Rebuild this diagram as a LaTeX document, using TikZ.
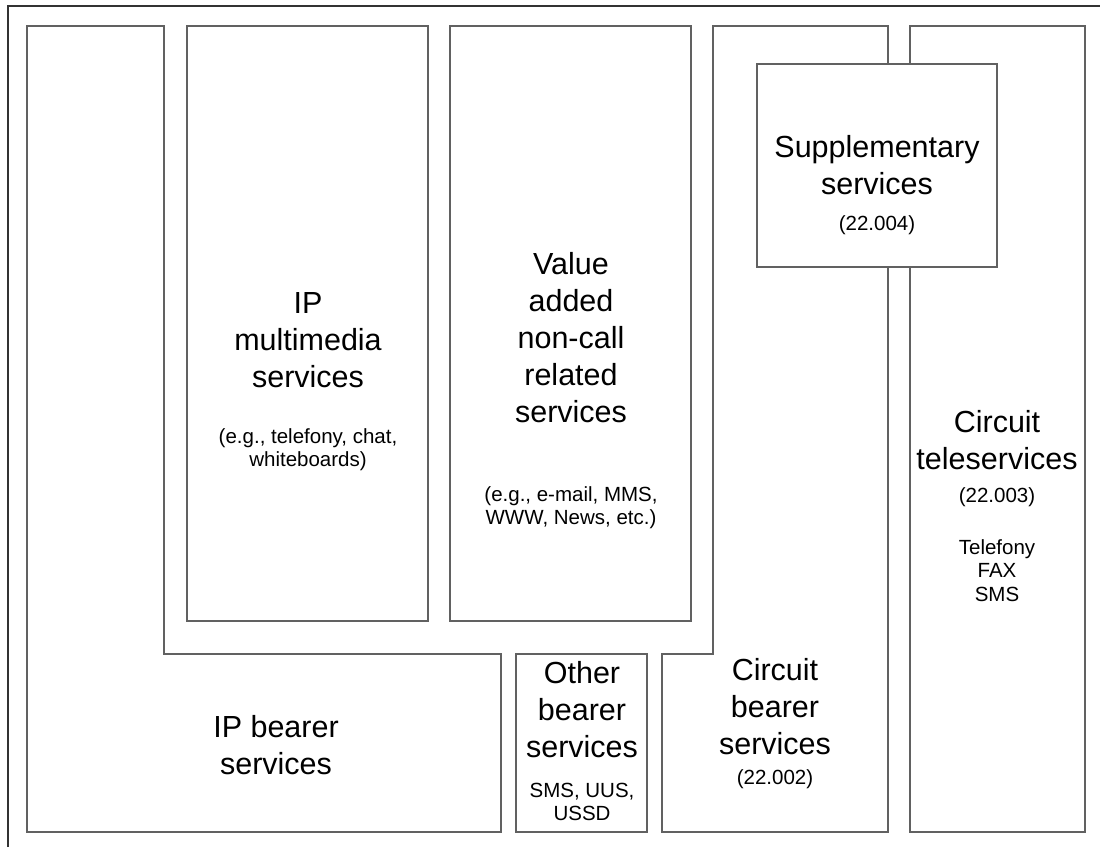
\documentclass[tikz,border=0pt]{standalone}
\usepackage{fontspec}
\setmainfont{Liberation Sans}
\newcommand\mlines[1]{\begin{tabular}[t]{@{}c@{}}#1\end{tabular}}
\begin{document}
\begin{tikzpicture}[x=1pt,y=-1pt,
  box/.style={draw=black!62,line width=1.2pt},
  frame/.style={draw=black!80,line width=1.2pt},
  big/.style={anchor=base,inner sep=0pt,font=\fontsize{30.5}{37}\selectfont},
  small/.style={anchor=base,inner sep=0pt,font=\fontsize{20.5}{23.5}\selectfont}]
\useasboundingbox (0,0) rectangle (1100,847);
% outer frame
\draw[frame] (8,847) -- (8,6) -- (1100,6);
% IP bearer
\draw[box] (27,26) -- (164,26) -- (164,654) -- (501,654) -- (501,832) -- (27,832) -- cycle;
% IP multimedia
\draw[box] (187,26) rectangle (428,621);
% Value added
\draw[box] (450,26) rectangle (691,621);
% Other bearer
\draw[box] (516,654) rectangle (647,832);
% Circuit bearer
\draw[box] (662,654) -- (713,654) -- (713,26) -- (888,26) -- (888,832) -- (662,832) -- cycle;
% Circuit teleservices
\draw[box] (910,26) rectangle (1085,832);
% Supplementary
\draw[box,fill=white] (757,64) rectangle (997,267);

\node[big] (ipm) at (308,313) {\mlines{IP\\multimedia\\services}};
\node[small] (ipmx) at (308,443) {\mlines{(e.g., telefony, chat,\\whiteboards)}};
\node[big] (vas) at (571,274) {\mlines{Value\\added\\non-call\\related\\services}};
\node[small] (vasx) at (571,501) {\mlines{(e.g., e-mail, MMS,\\WWW, News, etc.)}};
\node[big] (ipb) at (276,737) {\mlines{IP bearer\\services}};
\node[big] (ob) at (582,683) {\mlines{Other\\bearer\\services}};
\node[small] (obx) at (582,797) {\mlines{SMS, UUS,\\USSD}};
\node[big] (cb) at (775,680) {\mlines{Circuit\\bearer\\services}};
\node[small] (cbx) at (775,784) {(22.002)};
\node[big] (ss) at (877,157) {\mlines{Supplementary\\services}};
\node[small] (ssx) at (877,230) {(22.004)};
\node[big] (ct) at (997,432) {\mlines{Circuit\\teleservices}};
\node[small] (ctx) at (997,502) {(22.003)};
\node[small] (cty) at (997,554) {\mlines{Telefony\\FAX\\SMS}};
\end{tikzpicture}
\end{document}
